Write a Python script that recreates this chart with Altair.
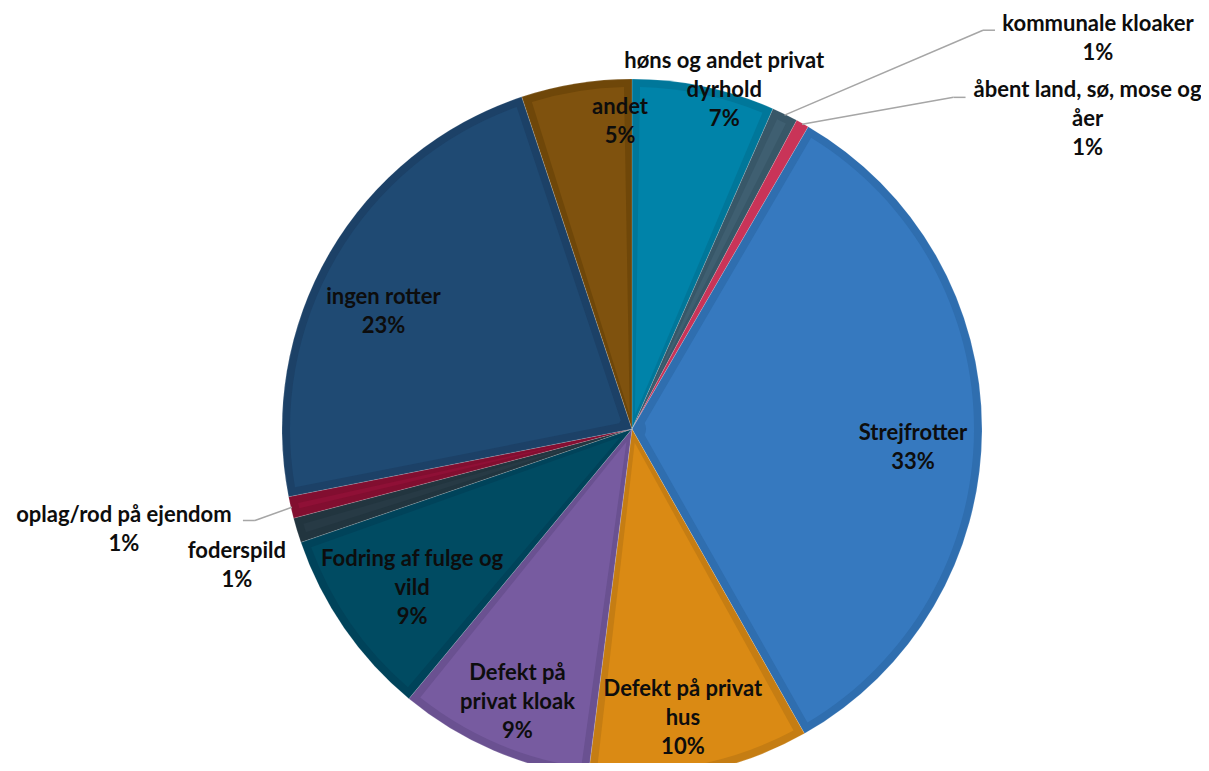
import altair as alt
import pandas as pd

# ---------------- data ----------------
categories = [
    "høns og andet privat dyrhold",
    "kommunale kloaker",
    "åbent land, sø, mose og åer",
    "Strejfrotter",
    "Defekt på privat hus",
    "Defekt på privat kloak",
    "Fodring af fulge og vild",
    "foderspild",
    "oplag/rod på ejendom",
    "ingen rotter",
    "andet",
]
values = [6.6, 1.2, 0.6, 33.4, 10.2, 9.0, 8.75, 1.15, 1.0, 23.0, 5.1]
label_text = [
    "høns og andet privat\ndyrhold",
    "kommunale kloaker",
    "åbent land, sø, mose og\nåer",
    "Strejfrotter",
    "Defekt på privat\nhus",
    "Defekt på\nprivat kloak",
    "Fodring af fulge og\nvild",
    "foderspild",
    "oplag/rod på ejendom",
    "ingen rotter",
    "andet",
]
fill_colors = ["#0083A9", "#3F5F71", "#D63A62", "#3679BF", "#DA8A14", "#775BA0",
               "#004B62", "#273A45", "#8F1036", "#1F4A73", "#7F520E"]
edge_colors = ["#00779A", "#385768", "#C93458", "#2F6EAF", "#C57D13", "#6A5191",
               "#00435A", "#22353F", "#820E30", "#1C4167", "#6F4709"]

df = pd.DataFrame({
    "idx": list(range(len(categories))),
    "category": categories,
    "value": values,
    "label": label_text,
})

# ---------------- layout ----------------
W, H = 1193, 755
CX, CY, R = 624, 421, 350
BORDER = 8
FONT = "Lato"
FS = 22
LH = 29

# label placement: (radius along slice mid-angle, dx, dy) -> centre of text block
label_layout = {
    "høns og andet privat dyrhold": (351, 20, 4),
    "kommunale kloaker": (350, 313, -76),
    "åbent land, sø, mose og åer": (350, 285, -4),
    "Strejfrotter": (281, 0, 17),
    "Defekt på privat hus": (294, -6, 1),
    "Defekt på privat kloak": (296, 3, 1),
    "Fodring af fulge og vild": (271, 3, 5),
    "foderspild": (418, 5, 15),
    "oplag/rod på ejendom": (350, -167, 22),
    "ingen rotter": (275, -11, 21),
    "andet": (307, 37, -4),
}
# leader lines: (end offset dx, dy from label block centre, knee length)
leader_layout = {
    "kommunale kloaker": (-103, -8, -12),
    "åbent land, sø, mose og åer": (-122, -22, -12),
    "oplag/rod på ejendom": (119, -9, 12),
}
lines_of = {c: l.count("\n") + 2 for c, l in zip(categories, label_text)}

base = alt.Chart(df).transform_window(
    cum="sum(value)", sort=[alt.SortField("idx")]
).transform_calculate(
    ang="(datum.cum - datum.value / 2) * 2 * PI / 100",
)

theta = alt.Theta("value:Q", stack=True)
order = alt.Order("idx:Q", sort="ascending")

outer = base.mark_arc(
    radius=R, stroke="#ffffff", strokeWidth=0.5, strokeOpacity=0.3
).encode(
    theta=theta, order=order,
    color=alt.Color("category:N", scale=alt.Scale(domain=categories, range=edge_colors), legend=None),
    x=alt.value(CX), y=alt.value(CY),
)

inner = base.mark_arc(
    radius=R - BORDER, radius2=14, padAngle=2 * BORDER / (R - BORDER)
).encode(
    theta=theta, order=order,
    color=alt.Color("category:N", scale=alt.Scale(domain=categories, range=fill_colors), legend=None),
    x=alt.value(CX), y=alt.value(CY),
)

pie = alt.layer(outer, inner).resolve_scale(color="independent")

layers = [pie]

for cat, (r, dx, dy) in label_layout.items():
    dy_top = dy - (lines_of[cat] - 1) * LH / 2
    t = base.transform_filter(alt.datum.category == cat).transform_calculate(
        lx=f"{CX} + {r} * sin(datum.ang) + {dx}",
        ly=f"{CY} - {r} * cos(datum.ang) + {dy_top}",
        txt="datum.label + '\\n' + format(datum.value / 100, '.0%')",
    ).mark_text(
        font=FONT, fontSize=FS, fontWeight="bold", color="#0d0d0d",
        lineBreak="\n", lineHeight=LH, align="center", baseline="middle",
    ).encode(
        x=alt.X("lx:Q", scale=None, axis=None),
        y=alt.Y("ly:Q", scale=None, axis=None),
        text="txt:N",
    )
    layers.append(t)

for cat, (ex, ey, knee) in leader_layout.items():
    r, dx, dy = label_layout[cat]
    seg = base.transform_filter(alt.datum.category == cat).transform_calculate(
        sx=f"{CX} + {R - 1} * sin(datum.ang)",
        sy=f"{CY} - {R - 1} * cos(datum.ang)",
        ex=f"{CX} + {r} * sin(datum.ang) + {dx} + {ex}",
        ey=f"{CY} - {r} * cos(datum.ang) + {dy} + {ey}",
    ).transform_calculate(
        kx=f"datum.ex + {knee}",
    )
    a = seg.mark_rule(color="#a6a6a6", strokeWidth=1.5).encode(
        x=alt.X("sx:Q", scale=None, axis=None), y=alt.Y("sy:Q", scale=None, axis=None),
        x2="kx:Q", y2="ey:Q",
    )
    b = seg.mark_rule(color="#a6a6a6", strokeWidth=1.5).encode(
        x=alt.X("kx:Q", scale=None, axis=None), y=alt.Y("ey:Q", scale=None, axis=None),
        x2="ex:Q", y2="ey:Q",
    )
    layers += [a, b]

chart = alt.layer(*layers).resolve_scale(color="independent").properties(
    width=W, height=H, padding=0, autosize=alt.AutoSizeParams(type="none"),
).configure_view(stroke=None)

chart.save("out.html", embed_options={"renderer": "svg", "actions": False})
